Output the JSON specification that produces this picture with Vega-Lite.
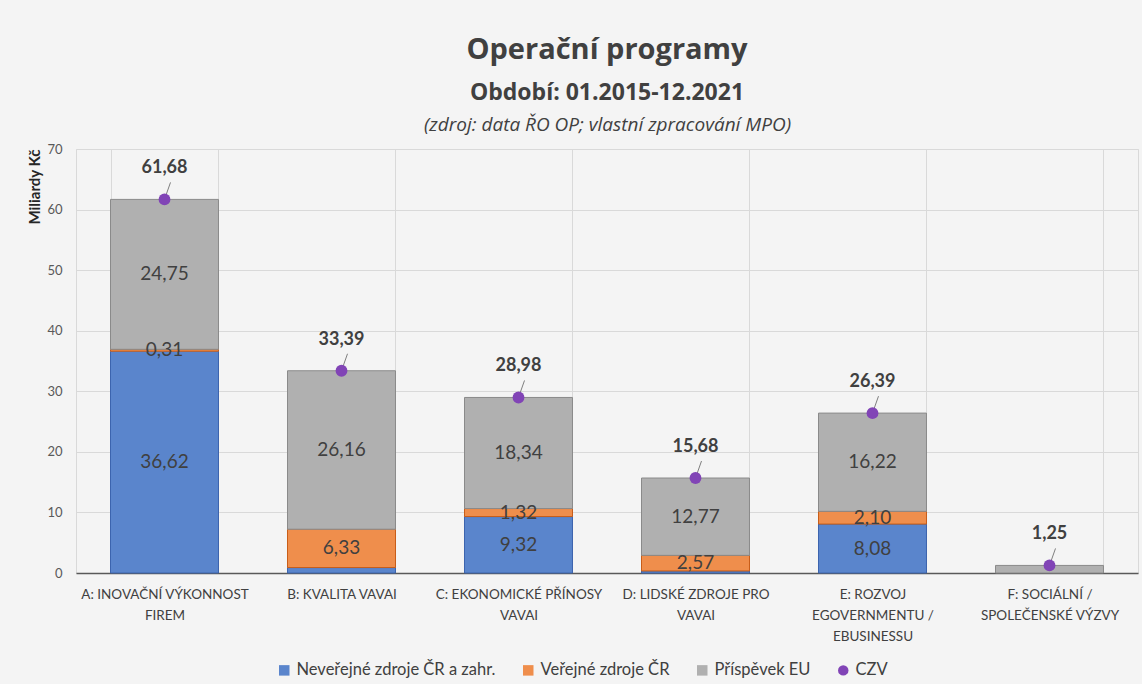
{
  "$schema": "https://vega.github.io/schema/vega-lite/v6.json",
  "width": 1062,
  "height": 424,
  "autosize": {"type": "none"},
  "padding": {"left": 76, "top": 149, "right": 4, "bottom": 111},
  "background": "#f4f4f4",
  "config": {
    "locale": {"number": {"decimal": ",", "thousands": " ", "grouping": [3], "currency": ["", " Kč"]}},
    "view": {"stroke": "#d9d9d9"},
    "font": "Lato",
    "axisY": {
      "titleFont": "Lato", "titleFontSize": 15, "titleFontWeight": "bold",
      "titleColor": "#262626", "titleAnchor": "end", "titlePadding": 4,
      "grid": true, "gridColor": "#d9d9d9", "ticks": false, "domain": false,
      "labelFont": "Lato", "labelFontSize": 13, "labelColor": "#595959", "labelPadding": 14
    }
  },
  "title": {
    "text": "Operační programy",
    "subtitle": "Období: 01.2015-12.2021",
    "font": "Open Sans",
    "fontSize": 29,
    "fontWeight": "bold",
    "color": "#404040",
    "subtitleFont": "Open Sans",
    "subtitleFontSize": 23,
    "subtitleFontWeight": "bold",
    "subtitleColor": "#404040",
    "subtitlePadding": 17,
    "anchor": "middle",
    "offset": 10
  },
  "datasets": {
    "parts": [
      {"category": "A: INOVAČNÍ VÝKONNOST|FIREM", "series": "Neveřejné zdroje ČR a zahr.", "ord": 1, "value": 36.62, "shown": true},
      {"category": "A: INOVAČNÍ VÝKONNOST|FIREM", "series": "Veřejné zdroje ČR", "ord": 2, "value": 0.31, "shown": true},
      {"category": "A: INOVAČNÍ VÝKONNOST|FIREM", "series": "Příspěvek EU", "ord": 3, "value": 24.75, "shown": true},
      {"category": "B: KVALITA VAVAI", "series": "Neveřejné zdroje ČR a zahr.", "ord": 1, "value": 0.90, "shown": false},
      {"category": "B: KVALITA VAVAI", "series": "Veřejné zdroje ČR", "ord": 2, "value": 6.33, "shown": true},
      {"category": "B: KVALITA VAVAI", "series": "Příspěvek EU", "ord": 3, "value": 26.16, "shown": true},
      {"category": "C: EKONOMICKÉ PŘÍNOSY|VAVAI", "series": "Neveřejné zdroje ČR a zahr.", "ord": 1, "value": 9.32, "shown": true},
      {"category": "C: EKONOMICKÉ PŘÍNOSY|VAVAI", "series": "Veřejné zdroje ČR", "ord": 2, "value": 1.32, "shown": true},
      {"category": "C: EKONOMICKÉ PŘÍNOSY|VAVAI", "series": "Příspěvek EU", "ord": 3, "value": 18.34, "shown": true},
      {"category": "D: LIDSKÉ ZDROJE PRO|VAVAI", "series": "Neveřejné zdroje ČR a zahr.", "ord": 1, "value": 0.34, "shown": false},
      {"category": "D: LIDSKÉ ZDROJE PRO|VAVAI", "series": "Veřejné zdroje ČR", "ord": 2, "value": 2.57, "shown": true},
      {"category": "D: LIDSKÉ ZDROJE PRO|VAVAI", "series": "Příspěvek EU", "ord": 3, "value": 12.77, "shown": true},
      {"category": "E: ROZVOJ|EGOVERNMENTU /|EBUSINESSU", "series": "Neveřejné zdroje ČR a zahr.", "ord": 1, "value": 8.08, "shown": true},
      {"category": "E: ROZVOJ|EGOVERNMENTU /|EBUSINESSU", "series": "Veřejné zdroje ČR", "ord": 2, "value": 2.10, "shown": true},
      {"category": "E: ROZVOJ|EGOVERNMENTU /|EBUSINESSU", "series": "Příspěvek EU", "ord": 3, "value": 16.22, "shown": true},
      {"category": "F: SOCIÁLNÍ /|SPOLEČENSKÉ VÝZVY", "series": "Příspěvek EU", "ord": 3, "value": 1.25, "shown": false}
    ],
    "czv": [
      {"category": "A: INOVAČNÍ VÝKONNOST|FIREM", "series": "CZV", "czv": 61.68},
      {"category": "B: KVALITA VAVAI", "series": "CZV", "czv": 33.39},
      {"category": "C: EKONOMICKÉ PŘÍNOSY|VAVAI", "series": "CZV", "czv": 28.98},
      {"category": "D: LIDSKÉ ZDROJE PRO|VAVAI", "series": "CZV", "czv": 15.68},
      {"category": "E: ROZVOJ|EGOVERNMENTU /|EBUSINESSU", "series": "CZV", "czv": 26.39},
      {"category": "F: SOCIÁLNÍ /|SPOLEČENSKÉ VÝZVY", "series": "CZV", "czv": 1.25}
    ]
  },
  "resolve": {"axis": {"x": "independent"}},
  "layer": [
    {
      "data": {"name": "parts"},
      "transform": [
        {"stack": "value", "groupby": ["category"], "sort": [{"field": "ord", "order": "ascending"}], "as": ["v0", "v1"]}
      ],
      "mark": {"type": "bar", "strokeWidth": 1},
      "encoding": {
        "x": {
          "field": "category", "type": "nominal", "sort": null,
          "scale": {"paddingInner": 0.39, "paddingOuter": 0.195},
          "axis": {
            "title": null, "tickBand": "extent", "tickOffset": 34.5, "grid": true, "gridColor": "#d9d9d9",
            "ticks": false, "domain": true, "domainColor": "#595959", "domainWidth": 1.5,
            "labelAngle": 0, "labelExpr": "split(datum.label, '|')",
            "labelFont": "Lato", "labelFontSize": 13.5, "labelColor": "#404040",
            "labelPadding": 14, "labelLineHeight": 21, "labelLimit": 300
          }
        },
        "y": {
          "field": "v0", "type": "quantitative",
          "scale": {"domain": [0, 70]},
          "axis": {"title": "Miliardy Kč", "values": [0, 10, 20, 30, 40, 50, 60, 70]}
        },
        "y2": {"field": "v1"},
        "color": {
          "field": "series", "type": "nominal",
          "scale": {
            "domain": ["Neveřejné zdroje ČR a zahr.", "Veřejné zdroje ČR", "Příspěvek EU", "CZV"],
            "range": ["#5a85cc", "#ef8e4c", "#b0b0b0", "#8144b6"]
          },
          "legend": {
            "orient": "none", "legendX": 200, "legendY": 513, "direction": "horizontal", "title": null,
            "labelFont": "Lato", "labelFontSize": 16.5, "labelColor": "#404040", "labelLimit": 400,
            "symbolSize": 110, "columnPadding": 24, "labelOffset": 4, "symbolStrokeWidth": 0
          }
        },
        "stroke": {
          "field": "series", "type": "nominal",
          "scale": {
            "domain": ["Neveřejné zdroje ČR a zahr.", "Veřejné zdroje ČR", "Příspěvek EU"],
            "range": ["#3c64ae", "#c85d18", "#8a8a8a"]
          },
          "legend": null
        }
      }
    },
    {
      "data": {"name": "parts"},
      "transform": [
        {"stack": "value", "groupby": ["category"], "sort": [{"field": "ord", "order": "ascending"}], "as": ["v0", "v1"]},
        {"filter": "datum.shown"},
        {"fold": ["v0", "v1"], "as": ["edge", "pos"]}
      ],
      "mark": {"type": "text", "fontSize": 19, "color": "#404040", "baseline": "middle", "font": "Lato"},
      "encoding": {
        "x": {"field": "category", "type": "nominal", "sort": null, "axis": null},
        "y": {"aggregate": "mean", "field": "pos", "type": "quantitative", "axis": {"title": "Miliardy Kč", "values": [0, 10, 20, 30, 40, 50, 60, 70]}},
        "detail": {"field": "series"},
        "text": {"aggregate": "max", "field": "value", "type": "quantitative", "format": ".2f"}
      }
    },
    {
      "data": {"name": "czv"},
      "mark": {"type": "rule", "color": "#7f7f7f", "strokeWidth": 1, "x2Offset": 6, "y2Offset": -17},
      "encoding": {
        "x": {"field": "category", "type": "nominal", "sort": null, "axis": null},
        "x2": {"field": "category"},
        "y": {"field": "czv", "type": "quantitative", "axis": {"title": "Miliardy Kč", "values": [0, 10, 20, 30, 40, 50, 60, 70]}},
        "y2": {"field": "czv"}
      }
    },
    {
      "data": {"name": "czv"},
      "mark": {"type": "point", "filled": true, "size": 140, "opacity": 1},
      "encoding": {
        "x": {
          "field": "category", "type": "nominal", "sort": null,
          "axis": {
            "orient": "top", "title": "(zdroj: data ŘO OP; vlastní zpracování MPO)",
            "titleFont": "Open Sans", "titleFontStyle": "italic", "titleFontWeight": "normal",
            "titleFontSize": 19, "titleColor": "#404040", "titlePadding": 15,
            "labels": false, "ticks": false, "domain": false, "grid": false
          }
        },
        "y": {"field": "czv", "type": "quantitative", "axis": {"title": "Miliardy Kč", "values": [0, 10, 20, 30, 40, 50, 60, 70]}},
        "color": {"field": "series", "type": "nominal"},
        "shape": {
          "field": "series", "type": "nominal",
          "scale": {
            "domain": ["Neveřejné zdroje ČR a zahr.", "Veřejné zdroje ČR", "Příspěvek EU", "CZV"],
            "range": ["square", "square", "square", "circle"]
          },
          "legend": {
            "orient": "none", "legendX": 200, "legendY": 513, "direction": "horizontal", "title": null,
            "labelFont": "Lato", "labelFontSize": 16.5, "labelColor": "#404040", "labelLimit": 400,
            "symbolSize": 110, "columnPadding": 24, "labelOffset": 4, "symbolStrokeWidth": 0
          }
        }
      }
    },
    {
      "data": {"name": "czv"},
      "mark": {"type": "text", "fontSize": 18, "fontWeight": "bold", "color": "#404040", "baseline": "middle", "dy": -31, "font": "Lato"},
      "encoding": {
        "x": {"field": "category", "type": "nominal", "sort": null, "axis": null},
        "y": {"field": "czv", "type": "quantitative", "axis": {"title": "Miliardy Kč", "values": [0, 10, 20, 30, 40, 50, 60, 70]}},
        "text": {"field": "czv", "type": "quantitative", "format": ".2f"}
      }
    }
  ]
}
